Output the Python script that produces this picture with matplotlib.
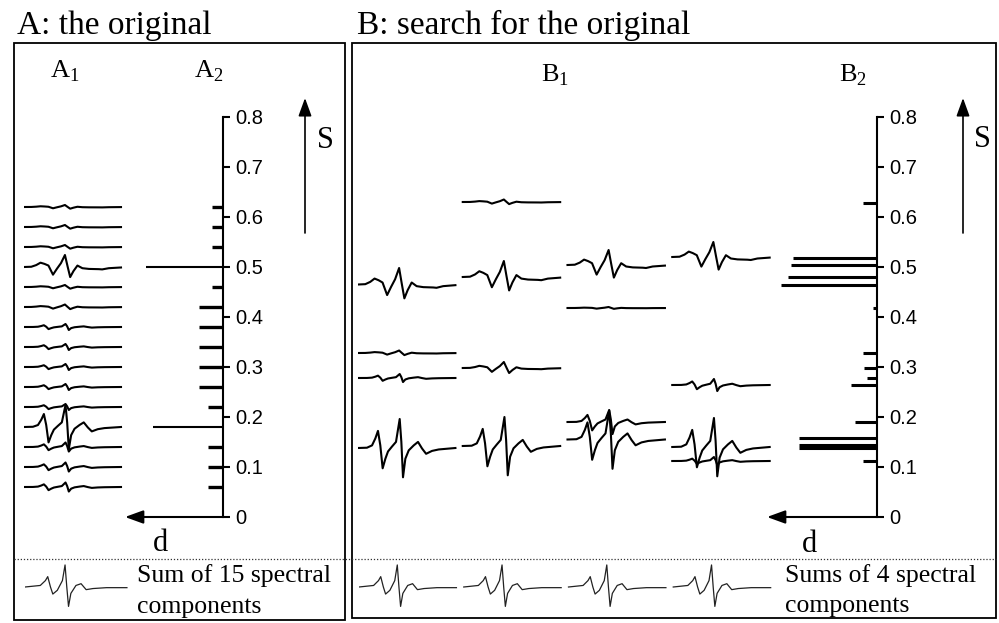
import numpy as np
import matplotlib.pyplot as plt
from matplotlib.patches import Rectangle

W, H = 999, 623

plt.rcParams['font.family'] = ['Liberation Serif', 'DejaVu Serif']
plt.rcParams['mathtext.fontset'] = 'custom'
plt.rcParams['mathtext.rm'] = 'Liberation Serif'

# line shapes (field position 0-1, height relative to main peak)
broad_x = [0, 0.092, 0.144, 0.178, 0.205, 0.229, 0.253, 0.281, 0.308, 0.349, 0.390, 0.428,
           0.445, 0.462, 0.486, 0.521, 0.572, 0.616, 0.658, 0.699, 0.760, 0.829, 1.0]
broad_y = [0, 0.01, 0.09, 0.33, 0.59, 0.09, -0.70, -0.37, -0.12, 0.05, 0.21, 1.0,
           0.21, -1.01, -0.37, -0.08, 0.09, 0.21, -0.02, -0.20, -0.10, -0.05, 0.0]
narrow_x = [0, 0.075, 0.126, 0.170, 0.211, 0.252, 0.299, 0.340, 0.381, 0.422, 0.449, 0.476,
            0.510, 0.551, 0.602, 0.670, 0.772, 0.806, 0.874, 1.0]
narrow_y = [0, 0.02, 0.16, 0.36, 0.26, 0.12, -0.64, -0.14, 0.32, 1.0, 0.06, -0.84,
            -0.34, 0.12, -0.10, -0.16, -0.18, -0.20, -0.10, -0.04]
sum_x = [0, 0.15, 0.2, 0.223, 0.25, 0.273, 0.317, 0.367, 0.393, 0.41, 0.427, 0.45,
         0.5, 0.55, 0.6, 0.667, 0.8, 1.0]
sum_y = [0, 0.07, 0.29, 0.47, 0.0, -0.32, -0.15, 0.29, 1.0, 0.0, -0.88, -0.29,
         0.07, 0.15, -0.12, -0.07, -0.03, -0.03]
shapes = {'b': (broad_x, broad_y), 'n': (narrow_x, narrow_y)}

# A: the 15 original components
a_s = [0.62, 0.58, 0.54, 0.50, 0.46, 0.42, 0.38, 0.34, 0.30, 0.26, 0.22, 0.18, 0.14, 0.10, 0.06]
a_d = [0.11, 0.11, 0.11, 0.79, 0.11, 0.25, 0.25, 0.25, 0.25, 0.25, 0.15, 0.71, 0.15, 0.15, 0.15]
a_kind = ['n', 'n', 'n', 'n', 'n', 'n', 'b', 'b', 'b', 'b', 'b', 'b', 'b', 'b', 'b']
a_amp = [0.004, 0.004, 0.004, 0.024, 0.004, 0.005, 0.006, 0.006, 0.006, 0.006, 0.006,
         0.044, 0.009, 0.009, 0.009]

# B: four solutions, four components each
b1_s = [[0.465, 0.328, 0.278, 0.138],
        [0.63, 0.48, 0.298, 0.142],
        [0.504, 0.418, 0.19, 0.155],
        [0.52, 0.264, 0.14, 0.112]]
b1_kind = [['n', 'n', 'b', 'b'],
           ['n', 'n', 'n', 'b'],
           ['n', 'n', 'b', 'b'],
           ['n', 'b', 'b', 'b']]
b1_amp = [[0.033, 0.005, 0.008, 0.058],
          [0.005, 0.032, 0.012, 0.058],
          [0.030, 0.002, 0.024, 0.058],
          [0.030, 0.012, 0.058, 0.008]]
b2_s = [0.628, 0.518, 0.504, 0.48, 0.464, 0.418, 0.328, 0.298, 0.278, 0.264, 0.19,
        0.158, 0.144, 0.138, 0.112]
b2_d = [0.14, 0.86, 0.88, 0.91, 0.98, 0.04, 0.14, 0.13, 0.10, 0.26, 0.22,
        0.79, 0.79, 0.79, 0.14]

s_ticks = [0, 0.1, 0.2, 0.3, 0.4, 0.5, 0.6, 0.7, 0.8]
s_labels = ['0', '0.1', '0.2', '0.3', '0.4', '0.5', '0.6', '0.7', '0.8']


def rect(x0, y0, x1, y1):
    return [x0 / W, 1 - y1 / H, (x1 - x0) / W, (y1 - y0) / H]


def spectrum(ax, x0, s, amp, kind, width=0.93, **kw):
    sx, sy = shapes[kind]
    ax.plot(x0 + width * np.array(sx), s + amp * np.array(sy), **kw)


def arrow(ax, start, end, lw=1.5):
    ax.annotate('', xy=end, xytext=start,
                arrowprops=dict(arrowstyle='-|>,head_length=1.1,head_width=0.4',
                                lw=lw, color='k', shrinkA=0, shrinkB=0),
                annotation_clip=False)


def scale_axes(ax, xmax):
    ax.patch.set_visible(False)
    ax.set_xlim(xmax, 0)
    ax.set_ylim(0, 0.8)
    for side in ['top', 'left', 'bottom']:
        ax.spines[side].set_visible(False)
    ax.spines['right'].set_linewidth(1.5)
    ax.yaxis.tick_right()
    ax.set_xticks([])
    ax.set_yticks(s_ticks, labels=s_labels)
    ax.tick_params(axis='y', direction='out', length=5, width=1.5, pad=4, labelsize=14.5)
    for lab in ax.get_yticklabels():
        lab.set_family('Liberation Sans')
    arrow(ax, (0, 0), (xmax, 0))


fig = plt.figure(figsize=(W / 100, H / 100), dpi=100)

# frame, headings and decorations
deco = fig.add_axes([0, 0, 1, 1])
deco.set_xlim(0, W)
deco.set_ylim(H, 0)
deco.axis('off')
deco.add_patch(Rectangle((14, 43), 331, 577, fill=False, lw=1.3, ec='k'))
deco.add_patch(Rectangle((352, 43), 644, 575, fill=False, lw=1.3, ec='k'))
deco.plot([14, 996], [559, 559], ls=(0, (1, 1.5)), lw=0.9, color='#333333')
deco.text(17, 34, 'A: the original', fontsize=24, va='baseline')
deco.text(357, 34, 'B: search for the original', fontsize=24, va='baseline')
deco.text(50, 78, r'A$_\mathrm{1}$', fontsize=19, va='baseline')
deco.text(194, 78, r'A$_\mathrm{2}$', fontsize=19, va='baseline')
deco.text(541, 81, r'B$_\mathrm{1}$', fontsize=19, va='baseline')
deco.text(839, 81, r'B$_\mathrm{2}$', fontsize=19, va='baseline')
deco.text(317, 148, 'S', fontsize=22, va='baseline')
deco.text(974, 147, 'S', fontsize=22, va='baseline')
deco.text(153, 551, 'd', fontsize=22, va='baseline')
deco.text(802, 552, 'd', fontsize=22, va='baseline')
deco.text(137, 582, 'Sum of 15 spectral', fontsize=18.5, va='baseline')
deco.text(137, 613, 'components', fontsize=18.5, va='baseline')
deco.text(785, 582, 'Sums of 4 spectral', fontsize=18.5, va='baseline')
deco.text(785, 612, 'components', fontsize=18.5, va='baseline')
arrow(deco, (305, 233), (305, 98), lw=1.2)
arrow(deco, (963, 233), (963, 98), lw=1.2)

# A1 spectra
ax_a1 = fig.add_axes(rect(24, 117, 128.3, 517))
ax_a1.set_xlim(0, 1)
ax_a1.set_ylim(0, 0.8)
ax_a1.axis('off')
for s, amp, kind in zip(a_s, a_amp, a_kind):
    spectrum(ax_a1, 0, s, amp, kind, color='k', lw=1.5)

# A2 weights
ax_a2 = fig.add_axes(rect(125, 117, 223, 517))
scale_axes(ax_a2, 1.0)
for s, d in zip(a_s, a_d):
    ax_a2.hlines(s, 0, d, color='k', lw=1.5 if d > 0.5 else 2.4)

# B1 spectra
ax_b1 = fig.add_axes(rect(358, 117, 777, 517))
ax_b1.set_xlim(0, 4)
ax_b1.set_ylim(0, 0.8)
ax_b1.axis('off')
for col in range(4):
    for s, amp, kind in zip(b1_s[col], b1_amp[col], b1_kind[col]):
        spectrum(ax_b1, col, s, amp, kind, color='k', lw=1.5)

# B2 weights
ax_b2 = fig.add_axes(rect(767, 117, 877, 517))
scale_axes(ax_b2, 1.12)
ax_b2.hlines(b2_s, 0, b2_d, color='k', lw=2.2)

# sums of components
ax_as = fig.add_axes(rect(25, 559, 129, 615))
ax_as.set_xlim(0, 1)
ax_as.set_ylim(-1.27, 1.27)
ax_as.axis('off')
ax_as.plot(0.98 * np.array(sum_x), sum_y, color='#222222', lw=0.9)

ax_bs = fig.add_axes(rect(359, 559, 778, 615))
ax_bs.set_xlim(0, 4)
ax_bs.set_ylim(-1.27, 1.27)
ax_bs.axis('off')
for col in range(4):
    ax_bs.plot(col + 0.93 * np.array(sum_x), sum_y, color='#222222', lw=0.9)

fig.savefig('out.png', dpi=100)
